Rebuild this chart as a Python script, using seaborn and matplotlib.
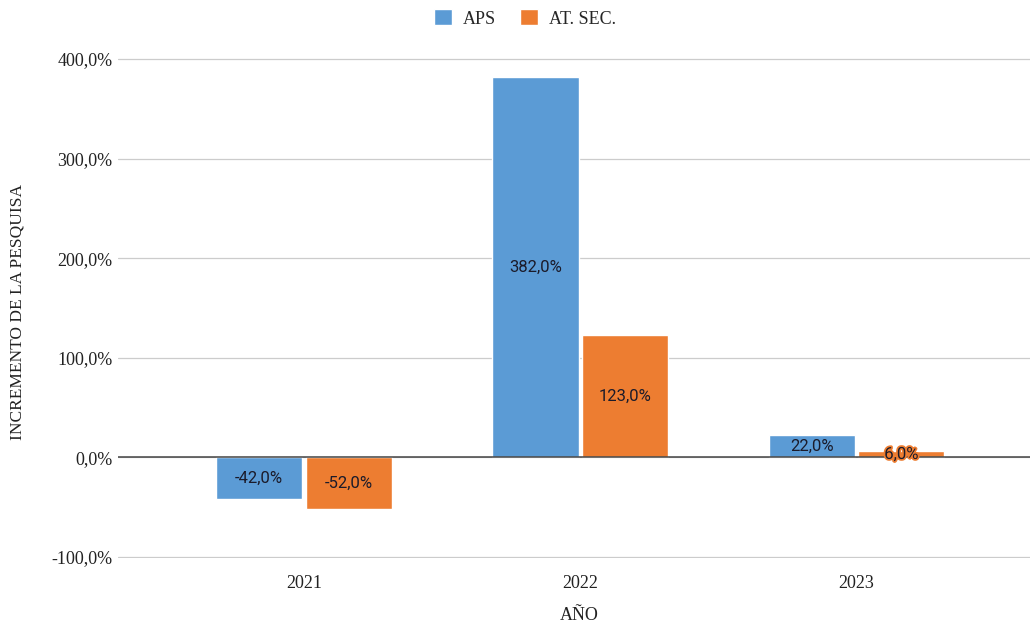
import matplotlib
matplotlib.use("Agg")
import matplotlib.pyplot as plt
import matplotlib.patheffects as pe
import seaborn as sns
import pandas as pd

years = ["2021", "2022", "2023"]
aps = [-42.0, 382.0, 22.0]
at_sec = [-52.0, 123.0, 6.0]
series_names = ["APS", "AT. SEC."]
y_ticks = [-100, 0, 100, 200, 300, 400]

df = pd.DataFrame({
    "year": years * 2,
    "value": aps + at_sec,
    "serie": [series_names[0]] * 3 + [series_names[1]] * 3,
})

sns.set_theme(style="white")
serif = ["Liberation Serif", "DejaVu Serif"]
colors = {"APS": "#5B9BD5", "AT. SEC.": "#ED7D31"}

fig = plt.figure(figsize=(10.31, 6.25), dpi=100)
ax = fig.add_axes([0.1145, 0.1072, 0.885, 0.8])

sns.barplot(data=df, x="year", y="value", hue="serie", palette=colors,
            width=0.65, gap=0.04, ax=ax, legend=True, saturation=1)

ax.set_ylim(-101, 401)
ax.set_xlim(-0.674, 2.63)
ax.set_yticks(y_ticks)
ax.set_yticklabels([f"{v:.1f}%".replace(".", ",") for v in y_ticks],
                   family=serif, fontsize=13, color="#222222")
for lab in ax.get_xticklabels():
    lab.set_family(serif)
    lab.set_fontsize(13)
    lab.set_color("#222222")
ax.tick_params(axis="y", length=0, pad=4)
ax.tick_params(axis="x", length=0, pad=12)
ax.grid(axis="y", color="#cccccc", linewidth=0.9)
ax.set_axisbelow(True)
for s in ax.spines.values():
    s.set_visible(False)
ax.axhline(0, color="#444444", linewidth=1.1, zorder=3)

ax.set_xlabel("")
ax.set_ylabel("")
fig.text(579 / 1031, 1 - 615 / 625, "AÑO", family=serif, fontsize=13,
         color="#222222", ha="center", va="center")
fig.text(18 / 1031, 1 - 312 / 625, "INCREMENTO DE LA PESQUISA", family=serif,
         fontsize=12.5, color="#222222", ha="center", va="center", rotation=90)

for cont in ax.containers:
    for bar in cont:
        h = bar.get_height()
        cx = bar.get_x() + bar.get_width() / 2
        cy = bar.get_y() + h / 2
        label = f"{h:.1f}%".replace(".", ",")
        effects = None
        if abs(h) < 15:
            effects = [pe.withStroke(linewidth=2.5, foreground="#ED7D31")]
        ax.text(cx, cy, label, ha="center", va="center", fontsize=12,
                family=["Roboto", "DejaVu Sans"], color="#1b1b2a",
                zorder=5, path_effects=effects)

leg = ax.legend(loc="upper center", bbox_to_anchor=(0.446, 1.13), ncol=2,
                frameon=False, prop={"family": serif, "size": 13},
                handlelength=1.0, handleheight=1.0, columnspacing=1.3,
                handletextpad=0.6)

fig.savefig("out.png", dpi=100)
